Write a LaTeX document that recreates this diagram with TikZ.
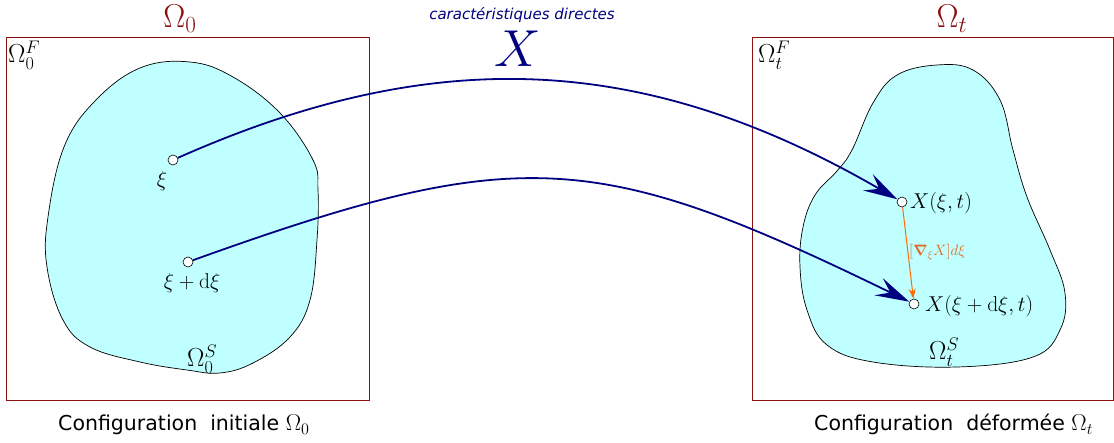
\RequirePackage{fix-cm}
\documentclass[tikz,border=0pt]{standalone}
\usepackage{amsmath}
\usepackage{fontspec}
\setsansfont{DejaVu Sans}
\usetikzlibrary{arrows.meta}
\definecolor{boxred}{HTML}{8B1010}
\definecolor{navy}{HTML}{000080}
\definecolor{cyanfill}{HTML}{BFFFFF}
\definecolor{orng}{HTML}{FF6A00}
\definecolor{orngtxt}{HTML}{E06A20}
\tikzset{
  frame/.style={draw=boxred, line width=0.8pt},
  blob/.style={draw=black, fill=cyanfill, line width=0.7pt},
  pt/.style={circle, draw=black, fill=white, line width=0.6pt, minimum size=10pt, inner sep=0pt},
  lab/.style={inner sep=0pt, font=\fontsize{21.5}{23}\selectfont},
  omlab/.style={inner sep=0pt, font=\fontsize{26}{28}\selectfont},
  title/.style={inner sep=0pt, text=boxred, font=\fontsize{33}{35}\selectfont},
  caption/.style={inner sep=0pt, font=\sffamily\fontsize{20.5}{22}\selectfont},
  charac/.style={draw=navy, line width=1.8pt, -{Stealth[length=34pt,width=19pt,inset=13pt]}},
  grad/.style={draw=orng, line width=1pt, -{Stealth[length=10pt,width=7pt]}}
}
\begin{document}
\begin{tikzpicture}[x=1pt,y=-1pt]
\useasboundingbox (0,0) rectangle (1114,443);
% boxes
\draw[frame] (6,37) rectangle (369,400);
\draw[frame] (752,37) rectangle (1113,400);
% blobs
\draw[blob] plot[smooth cycle, tension=0.65] coordinates {
 (190,62) (233,77) (280,113) (313,160) (318,190) (317,240) (310,300) (290,337)
 (253,363) (220,373) (187,370) (140,362) (90,347) (63,320) (47,267) (48,217)
 (64,147) (95,101) (140,68)};
\draw[blob] plot[smooth cycle, tension=0.65] coordinates {
 (937,65) (897,75) (873,103) (852,150) (837,171) (815,195) (803,227) (800,267)
 (807,310) (827,345) (873,362) (957,367) (1033,357) (1060,330) (1065,293)
 (1050,250) (1027,197) (1013,150) (1000,100) (973,70)};
% titles
\node[title, anchor=base] (t0) at (180,28) {$\Omega_0$};
\node[title, anchor=base] (tt) at (952,28) {$\Omega_t$};
\node[inner sep=0pt, text=navy, font=\sffamily\itshape\fontsize{15}{17}\selectfont, anchor=base] (car) at (522,20) {caractéristiques directes};
\node[inner sep=0pt, text=navy, font=\fontsize{52}{54}\selectfont, anchor=base] (bigX) at (518,67) {$X$};
% region labels
\node[omlab, anchor=base west] (o0f) at (8,63) {$\Omega_0^F$};
\node[omlab, anchor=base west] (otf) at (758,63) {$\Omega_t^F$};
\node[omlab, anchor=base west] (o0s) at (187,367) {$\Omega_0^S$};
\node[omlab, anchor=base west] (ots) at (929,360) {$\Omega_t^S$};
% points
\node[pt] (xi) at (173,160) {};
\node[pt] (xid) at (188,262) {};
\node[pt] (Xxi) at (902,202) {};
\node[pt] (Xxid) at (914,304) {};
\node[lab, anchor=base] (lxi) at (162,187) {$\xi$};
\node[lab, anchor=base] (lxid) at (192,289) {$\xi+\mathrm{d}\xi$};
\node[lab, anchor=base west] (lX) at (910,209) {$X(\xi,t)$};
\node[lab, anchor=base west] (lXd) at (925,312) {$X(\xi+\mathrm{d}\xi,t)$};
% characteristics
\draw[charac] (xi) .. controls (430,46) and (640,50) .. (Xxi);
\draw[charac] (xid) .. controls (519,143) and (596,149) .. (Xxid);
% gradient
\draw[grad] (Xxi) -- (Xxid);
\node[inner sep=0pt, text=orngtxt, font=\fontsize{15}{16}\selectfont, anchor=base west] (gl) at (909,256) {$[\boldsymbol{\nabla}_\xi X]d\xi$};
% captions
\node[caption, anchor=base west] (c0) at (58,431) {Configuration~ initiale {\fontsize{23}{24}\selectfont$\Omega_0$}};
\node[caption, anchor=base west] (ct) at (814,431) {Configuration~ déformée {\fontsize{23}{24}\selectfont$\Omega_t$}};
\end{tikzpicture}
\end{document}
